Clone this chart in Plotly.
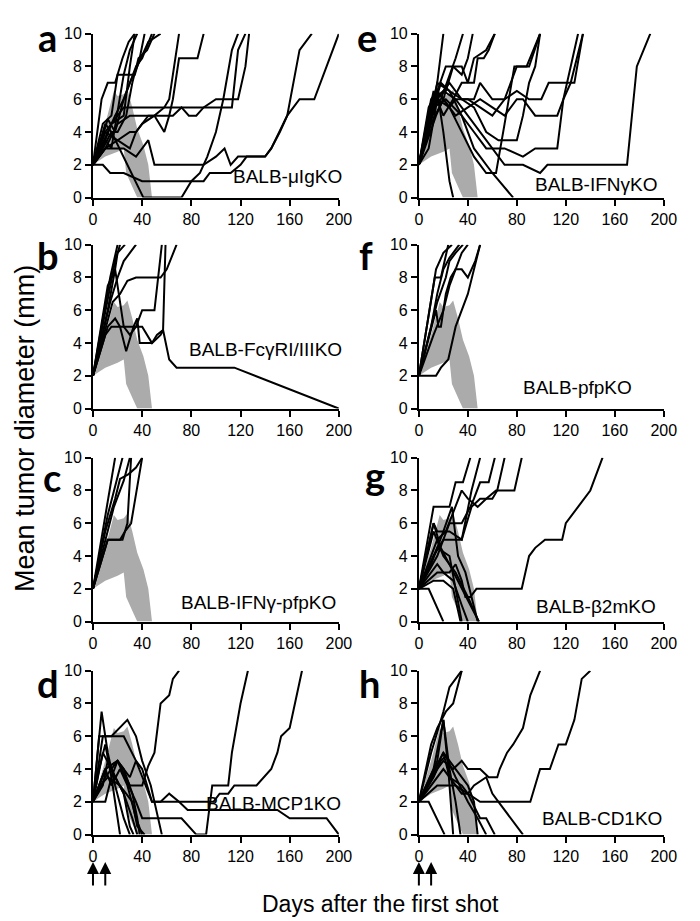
import plotly.graph_objects as go
from plotly.subplots import make_subplots

# reference band (wild-type BALB/c range), upper edge then lower edge back
band_upper_days = [0, 10, 17, 20, 25, 28, 32, 36, 41, 45, 48]
band_upper_mm = [2, 4.5, 6.5, 6.2, 6.3, 6.6, 5.5, 4.2, 3.2, 2, 0]
band_lower_days = [36, 33, 27, 25, 20, 10, 0]
band_lower_mm = [0, 0.5, 1.5, 3, 2.8, 2.5, 2]

# individual mice per panel: list of (day, mean diameter) points
mice_a = [
    [(0, 2), (7, 6), (12, 7), (18, 7), (24, 8.5), (29, 9.5), (34, 10)],
    [(0, 2), (8, 4.5), (15, 5), (20, 7.5), (28, 7.5), (34, 7.5), (38, 8.5), (42, 10)],
    [(0, 2), (10, 4.5), (15, 4), (20, 4), (27, 5), (32, 7), (37, 8.5), (44, 9), (50, 10)],
    [(0, 2), (5, 3), (12, 4.8), (18, 4), (25, 6), (30, 7), (35, 8), (40, 8.5), (45, 9.5), (48, 10)],
    [(0, 2), (10, 3.5), (15, 4.5), (25, 5), (30, 8), (34, 10)],
    [(0, 2), (10, 3), (20, 4.5), (30, 5), (40, 5), (50, 5), (58, 4), (62, 5), (65, 6),
     (70, 8.5), (85, 8.5), (90, 10)],
    [(0, 2), (10, 4), (20, 3.5), (30, 4), (35, 4), (40, 4.5), (50, 5), (58, 5.5), (62, 6),
     (66, 8), (70, 10)],
    [(0, 2), (10, 3), (20, 3.5), (30, 3), (35, 4), (45, 5), (65, 5), (72, 5.5), (78, 5),
     (84, 5), (90, 5.5), (100, 6), (118, 6), (124, 8), (127, 10)],
    [(0, 2), (10, 3), (25, 3), (35, 2.5), (40, 3), (45, 3.5), (50, 2), (90, 2), (100, 2.5),
     (107, 3), (112, 2), (118, 2.5), (140, 2.5), (145, 3), (152, 4), (158, 5), (168, 9), (178, 10)],
    [(0, 2), (8, 2), (14, 1.5), (25, 1.5), (40, 1), (90, 1), (95, 1.5), (112, 1.5), (120, 2),
     (125, 2.5), (140, 2.5), (145, 3), (158, 5), (168, 6), (180, 6), (200, 10)],
    [(0, 2), (8, 3), (15, 4), (25, 2.5), (35, 1), (41, 0), (72, 0), (80, 1), (87, 1.5),
     (93, 2.5), (100, 4), (106, 6), (113, 9), (118, 10)],
    [(0, 2), (10, 4), (20, 5), (25, 5.5), (40, 5.5), (72, 5.5), (113, 5.5), (118, 9), (124, 10)],
    [(0, 2), (12, 4), (18, 5), (25, 6), (30, 7), (36, 8), (45, 9.5), (55, 10)],
    [(0, 2), (10, 3.5), (15, 3), (25, 7.5), (30, 9), (36, 10)],
]

mice_e = [
    [(0, 2), (8, 5.5), (15, 6.5), (20, 4), (25, 1), (28, 0)],
    [(0, 2), (8, 4), (15, 7), (20, 10)],
    [(0, 2), (10, 5.5), (18, 6), (25, 7.5), (30, 8.5), (36, 10)],
    [(0, 2), (10, 6), (15, 6.5), (22, 8), (28, 8), (35, 7.5), (40, 8.5), (44, 10)],
    [(0, 2), (12, 6.5), (20, 5), (28, 6), (35, 7), (45, 7), (48, 8.5), (53, 8.5), (57, 9), (62, 10)],
    [(0, 2), (10, 5), (18, 7), (25, 6.5), (35, 6), (45, 5.5), (55, 4), (65, 3.5), (80, 3.5),
     (85, 5), (90, 7), (95, 8), (99, 10)],
    [(0, 2), (12, 6), (20, 6.5), (30, 6), (40, 5), (50, 4), (60, 3), (70, 2), (85, 2), (99, 1.5),
     (105, 2), (170, 2), (178, 8), (189, 10)],
    [(0, 2), (15, 6.5), (25, 5.5), (35, 4), (45, 2.5), (55, 1.5), (63, 1.5), (70, 4.5), (78, 8),
     (90, 8), (99, 10)],
    [(0, 2), (10, 4.5), (20, 6), (30, 5), (40, 5.5), (50, 6), (60, 5.5), (70, 5), (80, 6),
     (85, 6), (95, 5), (113, 5), (118, 6), (124, 8), (130, 10)],
    [(0, 2), (12, 5.5), (22, 6), (35, 5), (45, 4), (55, 3), (70, 3), (85, 2.5), (95, 3),
     (113, 3), (118, 6), (124, 7), (134, 10)],
    [(0, 2), (15, 7), (25, 6.5), (35, 5), (45, 3), (60, 1.5), (77, 0)],
    [(0, 2), (15, 6), (25, 7), (35, 6), (45, 6), (50, 7), (60, 6), (70, 6), (80, 6.5), (90, 6),
     (100, 6), (106, 7), (127, 7), (134, 10)],
    [(0, 2), (14, 5), (20, 6), (28, 8), (35, 8), (40, 7), (45, 8.5), (55, 9), (62, 10)],
    [(0, 2), (8, 3), (15, 6), (25, 5.5), (30, 6), (40, 6), (50, 5.5), (60, 5), (65, 5.5),
     (70, 6), (80, 8), (88, 8), (99, 10)],
]

mice_b = [
    [(0, 2), (14, 8), (20, 10)],
    [(0, 2), (10, 6), (18, 9), (22, 10)],
    [(0, 2), (12, 7.5), (18, 8.5), (20, 9.5), (26, 10)],
    [(0, 2), (14, 6.5), (20, 8), (25, 9), (30, 9.5), (35, 10)],
    [(0, 2), (12, 5.5), (16, 6.5), (22, 7), (28, 7.8), (35, 8), (55, 8), (60, 8.5), (68, 10)],
    [(0, 2), (12, 6), (18, 8.5), (22, 6.5), (25, 5), (30, 4.5), (35, 5), (40, 6), (50, 6), (56, 10)],
    [(0, 2), (12, 5), (18, 5.5), (22, 5), (27, 3.5), (33, 5), (36, 5.5), (38, 4), (48, 4),
     (52, 4.5), (57, 4.8), (59, 10)],
    [(0, 2), (10, 4.5), (15, 5), (25, 5), (40, 5), (48, 4), (55, 4.5), (57, 4.8), (62, 3),
     (68, 2.5), (115, 2.5), (200, 0)],
]

mice_f = [
    [(0, 2), (14, 8.5), (20, 9.5), (27, 10)],
    [(0, 2), (13, 8), (18, 8), (24, 10)],
    [(0, 2), (15, 6.5), (22, 8), (25, 9), (30, 9.5), (36, 10)],
    [(0, 2), (14, 6), (16, 5), (18, 5), (22, 7), (26, 8), (30, 8.5), (35, 9.5), (40, 10)],
    [(0, 2), (12, 4.5), (20, 6), (25, 7.5), (30, 8.5), (35, 8.5), (40, 8), (46, 9), (50, 10)],
    [(0, 2), (14, 2), (18, 2.5), (24, 3), (30, 5), (40, 7), (50, 10)],
    [(0, 2), (10, 5), (15, 7), (20, 8.5), (25, 9.2), (33, 10)],
]

mice_c = [
    [(0, 2), (18, 10)],
    [(0, 2), (12, 6.5), (24, 10)],
    [(0, 2), (10, 5), (17, 7), (25, 8.6), (30, 10)],
    [(0, 2), (12, 5), (24, 5), (28, 6), (31, 10)],
    [(0, 2), (12, 5), (22, 5), (26, 5.5), (31, 6), (40, 10)],
    [(0, 2), (10, 5.5), (18, 7.5), (22, 8.7), (29, 9), (35, 9.4), (40, 10)],
]

mice_g = [
    [(0, 2), (8, 2), (20, 0)],
    [(0, 2), (12, 2.5), (20, 2.5), (28, 2), (34, 0)],
    [(0, 2), (12, 7), (25, 7), (30, 8.5), (36, 8.5), (42, 10)],
    [(0, 2), (12, 6), (15, 5.5), (25, 5.5), (35, 5), (40, 7), (43, 8), (50, 10)],
    [(0, 2), (15, 4), (25, 6), (35, 6), (42, 7), (45, 7.5), (50, 8.5), (57, 8.5), (62, 10)],
    [(0, 2), (15, 5), (22, 5.5), (30, 7), (35, 8), (40, 7.5), (48, 7), (55, 7.5), (63, 8),
     (78, 8), (84, 10)],
    [(0, 2), (12, 4), (20, 5), (35, 5), (43, 7), (50, 7.5), (60, 7.5), (64, 8), (70, 10)],
    [(0, 2), (15, 3), (25, 3), (30, 3.5), (35, 2.5), (38, 1.5), (42, 1.5), (47, 2), (84, 2),
     (90, 4), (95, 4.5), (103, 5), (117, 5), (120, 6), (130, 7), (140, 8), (150, 10)],
    [(0, 2), (10, 3.5), (20, 5.5), (27, 7), (32, 4), (38, 3), (43, 1.5), (48, 0)],
    [(0, 2), (12, 5.5), (20, 4), (30, 3), (40, 1.5), (49, 0)],
    [(0, 2), (15, 3.5), (20, 3), (28, 2.5), (35, 1), (40, 0)],
    [(0, 2), (12, 6), (18, 4.5), (25, 3.5), (35, 2), (49, 0)],
    [(0, 2), (15, 4.5), (25, 4), (30, 2), (35, 0)],
]

mice_d = [
    [(0, 2), (7, 7.5), (12, 5), (18, 3), (25, 1), (30, 0)],
    [(0, 2), (5, 6), (10, 6), (25, 6), (35, 4.5), (48, 2), (60, 2), (98, 2), (103, 2.5),
     (110, 2.5), (115, 3), (133, 3), (145, 4), (150, 5), (153, 6), (160, 6.5), (170, 10)],
    [(0, 2), (8, 6), (15, 6), (28, 7), (35, 6), (40, 4.5), (47, 3), (56, 0)],
    [(0, 2), (10, 4), (20, 4.5), (30, 3), (40, 3), (45, 4.2), (50, 5), (55, 8), (62, 8.5),
     (65, 9.5), (70, 10)],
    [(0, 2), (10, 4), (20, 4.5), (30, 3.5), (35, 4.5), (40, 4), (48, 2), (55, 2), (62, 2.5),
     (70, 2), (77, 1.5), (150, 1.5), (160, 1), (190, 1), (200, 0)],
    [(0, 2), (10, 3.5), (20, 4.5), (35, 2), (40, 1), (72, 1), (84, 0), (92, 0), (97, 3),
     (110, 3), (113, 5), (120, 8), (126, 10)],
    [(0, 2), (5, 4), (10, 5.5), (15, 3.5), (20, 1), (22, 0)],
    [(0, 2), (8, 3), (12, 4.5), (18, 3.5), (25, 2.5), (30, 0.5), (33, 0)],
    [(0, 2), (10, 4), (15, 3), (22, 4), (28, 3), (35, 1), (40, 0)],
    [(0, 2), (6, 3), (12, 3.5), (22, 3), (32, 2), (36, 0.5), (42, 0)],
    [(0, 2), (10, 2), (15, 3.5), (20, 4.5), (25, 4), (32, 2.5), (36, 1), (38, 0)],
    [(0, 2), (8, 5), (15, 4), (25, 2.5), (32, 1), (36, 0)],
]

mice_h = [
    [(0, 2), (10, 5), (20, 7.5), (25, 9), (30, 9.5), (35, 10)],
    [(0, 2), (10, 5.5), (15, 6.5), (22, 7.5), (28, 8), (35, 10)],
    [(0, 2), (8, 2), (21, 0)],
    [(0, 2), (12, 4), (20, 7), (24, 4), (28, 0)],
    [(0, 2), (15, 4.5), (20, 7), (25, 4), (30, 2), (34, 0)],
    [(0, 2), (20, 5), (30, 4), (40, 3), (45, 2), (48, 0)],
    [(0, 2), (15, 3), (30, 3), (40, 2.5), (50, 1), (55, 1), (62, 0)],
    [(0, 2), (10, 3.5), (20, 5), (25, 3.5), (35, 3), (40, 2.5), (50, 2), (91, 2), (99, 4),
     (107, 4), (114, 5.5), (120, 5.5), (127, 7), (133, 9.5), (140, 10)],
    [(0, 2), (15, 4), (20, 4.5), (28, 4), (35, 4.5), (40, 4), (50, 4), (57, 3.5), (64, 3.5),
     (66, 4), (72, 5), (77, 5.5), (85, 6.5), (91, 8.5), (99, 10)],
    [(0, 2), (10, 3), (20, 4), (30, 3), (35, 2.5), (40, 2.5), (45, 3), (55, 3.5), (60, 2.5),
     (65, 2), (75, 1), (85, 0)],
    [(0, 2), (12, 3.5), (18, 4.5), (22, 4.8), (30, 3.5), (40, 2), (48, 1), (55, 0)],
]

panel_letters = ["a", "e", "b", "f", "c", "g", "d", "h"]
strain_names = ["BALB-μIgKO", "BALB-IFNγKO", "BALB-FcγRI/IIIKO", "BALB-pfpKO",
                "BALB-IFNγ-pfpKO", "BALB-β2mKO", "BALB-MCP1KO", "BALB-CD1KO"]
panel_mice = [mice_a, mice_e, mice_b, mice_f, mice_c, mice_g, mice_d, mice_h]
shot_days = [0, 10]

W, H = 700, 921
x_dom = [(83, 335), (417, 668)]
y_dom = [(18, 185), (233, 400), (450, 617), (667, 834)]

def px(x):
    return x / W

def py(y):
    return 1 - y / H

# strain label right edge / vertical centre and panel-letter centre, in pixels
label_pos = [(340, 164), (663, 172), (340, 340), (637, 378),
             (334, 598), (662, 602), (339, 802), (668, 818)]
letter_pos = [(36, 21), (364, 21), (37, 243), (363, 243),
              (41, 470), (372, 468), (37, 680), (366, 680)]

fig = make_subplots(rows=4, cols=2)
sans = "Arial, Liberation Sans, sans-serif"
tick_font = dict(family=sans, size=16, color="black")

for i, mice in enumerate(panel_mice):
    r, c = i // 2 + 1, i % 2 + 1
    fig.add_trace(go.Scatter(
        x=band_upper_days + band_lower_days,
        y=band_upper_mm + band_lower_mm,
        fill="toself", fillcolor="#ababab", mode="lines",
        line=dict(width=0, color="#ababab"), hoverinfo="skip"), row=r, col=c)
    for m in mice:
        fig.add_trace(go.Scatter(
            x=[p[0] for p in m], y=[p[1] for p in m], mode="lines",
            line=dict(color="black", width=2)), row=r, col=c)

    n = "" if i == 0 else str(i + 1)
    fig.layout["xaxis" + n].update(
        domain=[px(x_dom[c - 1][0]), px(x_dom[c - 1][1])], range=[0, 200],
        tickvals=[0, 40, 80, 120, 160, 200], ticks="outside", ticklen=6, tickwidth=2,
        showline=True, linecolor="black", linewidth=2, showgrid=False, zeroline=False,
        tickfont=tick_font, tickcolor="black")
    fig.layout["yaxis" + n].update(
        domain=[py(y_dom[r - 1][1]), py(y_dom[r - 1][0])], range=[0, 10],
        tickvals=[0, 2, 4, 6, 8, 10], ticks="outside", ticklen=6, tickwidth=2,
        showline=True, linecolor="black", linewidth=2, showgrid=False, zeroline=False,
        tickfont=tick_font, tickcolor="black")

    lx, ly = label_pos[i]
    fig.add_annotation(x=px(lx), y=py(ly), xref="paper", yref="paper", text=strain_names[i],
                       showarrow=False, xanchor="right", yanchor="middle",
                       font=dict(family=sans, size=19, color="black"))
    gx, gy = letter_pos[i]
    fig.add_annotation(x=px(gx), y=py(gy), xref="paper", yref="paper",
                       text="<b>%s</b>" % panel_letters[i], showarrow=False,
                       xanchor="center", yanchor="middle",
                       font=dict(family="Lato, Open Sans", size=38, color="black"))

# injection arrows under panels d and h
for xa in ["x7", "x8"]:
    for d in shot_days:
        fig.add_annotation(x=d, y=py(862), xref=xa, yref="paper", ax=0, ay=25,
                           text="", showarrow=True, arrowhead=2, arrowsize=1.2,
                           arrowwidth=2, arrowcolor="black")

fig.add_annotation(x=px(14), y=py(420), xref="paper", yref="paper",
                   xanchor="center", yanchor="middle",
                   text="Mean tumor diameter (mm)", textangle=-90, showarrow=False,
                   font=dict(family=sans, size=27, color="black"))
fig.add_annotation(x=px(378), y=py(905), xref="paper", yref="paper",
                   xanchor="center", yanchor="middle",
                   text="Days after the first shot", showarrow=False,
                   font=dict(family=sans, size=23, color="black"))

fig.update_layout(width=W, height=H, margin=dict(l=0, r=0, t=0, b=0),
                  paper_bgcolor="white", plot_bgcolor="white", showlegend=False)
fig.write_html("out.html")
